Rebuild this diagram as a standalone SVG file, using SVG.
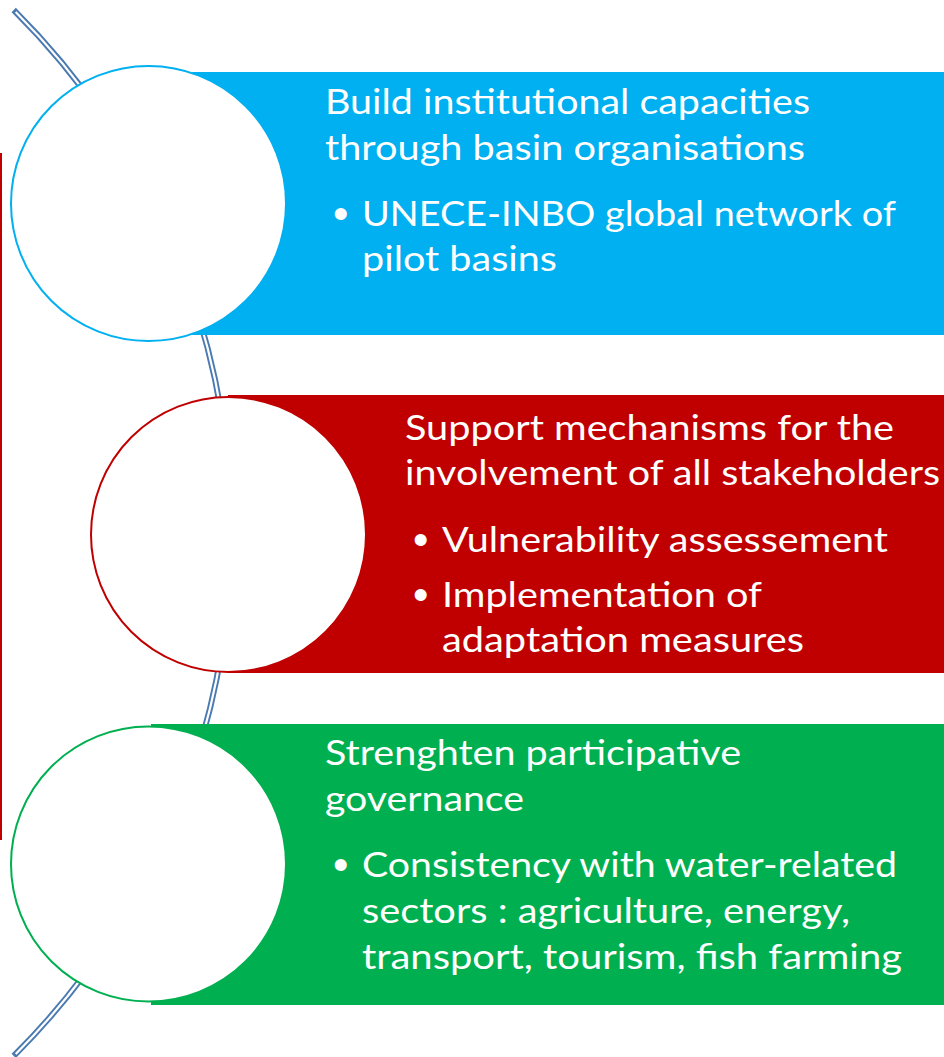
<svg xmlns="http://www.w3.org/2000/svg" width="944" height="1057" viewBox="0 0 944 1057">
<style>
.t{font-family:Lato,"Open Sans","Liberation Sans",sans-serif;font-size:35px;fill:#ffffff}
.b{font-family:"Liberation Sans",Arial,sans-serif;font-size:44px;fill:#ffffff}
.arcO{fill:none;stroke:#4a7ab0;stroke-width:6}
.arcI{fill:none;stroke:#ffffff;stroke-width:2.2}
.ring{fill:#ffffff;stroke-width:2}
</style>
<rect x="0" y="0" width="944" height="1057" fill="#ffffff"/>
<g id="connectors">
<path class="arcO" d="M 13.7 10 A 738 738 0 0 1 13.7 1056"/>
<path class="arcI" d="M 15.7 12 A 738 738 0 0 1 15.7 1054"/>
<rect x="0" y="153" width="2" height="687" fill="#c00000"/>
</g>
<g id="node1">
<rect x="148" y="72" width="796" height="263" fill="#00b0f0"/>
<circle class="ring" cx="148.5" cy="203.5" r="137.5" stroke="#00b0f0"/>
<text class="t" x="325" y="114" textLength="485" lengthAdjust="spacingAndGlyphs">Build institutional capacities</text>
<text class="t" x="325" y="160" textLength="480" lengthAdjust="spacingAndGlyphs">through basin organisations</text>
<text class="b" x="333" y="229">•</text>
<text class="t" x="362" y="226" textLength="534" lengthAdjust="spacingAndGlyphs">UNECE-INBO global network of</text>
<text class="t" x="362" y="271" textLength="195" lengthAdjust="spacingAndGlyphs">pilot basins</text>
</g>
<g id="node2">
<rect x="228" y="395" width="716" height="278" fill="#c00000"/>
<circle class="ring" cx="228.5" cy="534.5" r="137.5" stroke="#c00000"/>
<text class="t" x="405" y="440" textLength="489" lengthAdjust="spacingAndGlyphs">Support mechanisms for the</text>
<text class="t" x="405" y="485" textLength="535" lengthAdjust="spacingAndGlyphs">involvement of all stakeholders</text>
<text class="b" x="413" y="555">•</text>
<text class="t" x="442" y="552" textLength="446" lengthAdjust="spacingAndGlyphs">Vulnerability assessement</text>
<text class="b" x="413" y="610">•</text>
<text class="t" x="442" y="607" textLength="320" lengthAdjust="spacingAndGlyphs">Implementation of</text>
<text class="t" x="442" y="652" textLength="362" lengthAdjust="spacingAndGlyphs">adaptation measures</text>
</g>
<g id="node3">
<rect x="151" y="724" width="793" height="281" fill="#00b050"/>
<circle class="ring" cx="148.5" cy="864" r="137.5" stroke="#00b050"/>
<text class="t" x="325" y="765" textLength="416" lengthAdjust="spacingAndGlyphs">Strenghten participative</text>
<text class="t" x="325" y="811" textLength="199" lengthAdjust="spacingAndGlyphs">governance</text>
<text class="b" x="333" y="880">•</text>
<text class="t" x="362" y="877" textLength="535" lengthAdjust="spacingAndGlyphs">Consistency with water-related</text>
<text class="t" x="362" y="923" textLength="488" lengthAdjust="spacingAndGlyphs">sectors : agriculture, energy,</text>
<text class="t" x="362" y="969" textLength="540" lengthAdjust="spacingAndGlyphs">transport, tourism, fish farming</text>
</g>
</svg>
